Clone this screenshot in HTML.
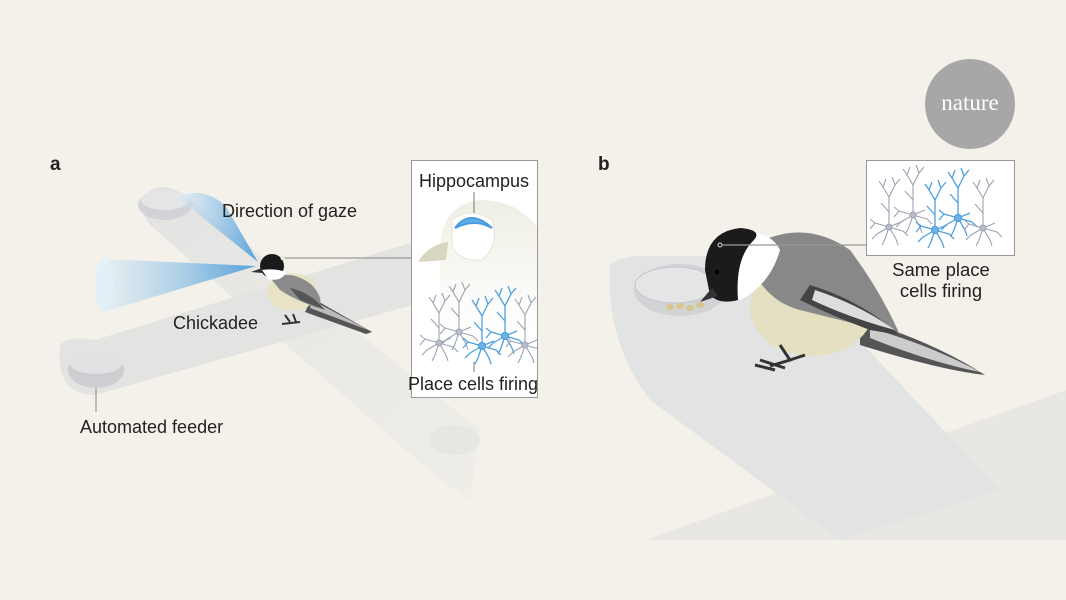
<!DOCTYPE html>
<html><head><meta charset="utf-8"><style>
html,body{margin:0;padding:0;background:#f4f1ea;}
svg{display:block;}
text{font-family:"Liberation Sans",sans-serif;fill:#222;}
</style></head><body>
<svg width="1066" height="600" viewBox="0 0 1066 600" xmlns="http://www.w3.org/2000/svg">
<defs>
<linearGradient id="coneA" x1="1" y1="0" x2="0" y2="0"><stop offset="0" stop-color="#3f95d8"/><stop offset="1" stop-color="#d9ebf7" stop-opacity="0.6"/></linearGradient>
<linearGradient id="armfade" x1="0" y1="0" x2="1" y2="1"><stop offset="0" stop-color="#e2e3e2"/><stop offset="1" stop-color="#ebeae6" stop-opacity="0.5"/></linearGradient>
<linearGradient id="headfade" x1="0" y1="0" x2="0" y2="1"><stop offset="0" stop-color="#efeee4"/><stop offset="1" stop-color="#fff"/></linearGradient>
<clipPath id="clipA"><rect x="412" y="161" width="125" height="236"/></clipPath>
<clipPath id="clipB"><rect x="867" y="161" width="147" height="94"/></clipPath>
<g id="ng" fill="none" stroke="#9ea3b3" stroke-width="1.1">
<path d="M0 0 L0 -30 M0 -30 L-6 -40 M0 -30 L6 -42 M-6 -40 L-10 -46 M-6 -40 L-3 -48 M6 -42 L3 -50 M6 -42 L11 -48 M0 -15 L-8 -24"/>
<path d="M0 0 L-14 -4 M0 0 L-12 7 M0 0 L-4 12 M0 0 L7 12 M0 0 L14 4 M0 0 L12 -5 M-14 -4 L-19 -8 M-14 -4 L-19 2 M-12 7 L-17 12 M7 12 L9 18 M14 4 L19 9 M-4 12 L-7 18"/>
<circle cx="0" cy="0" r="3" fill="#b8bccb"/>
</g>
<g id="nb" fill="none" stroke="#4ea1df" stroke-width="1.3">
<path d="M0 0 L0 -30 M0 -30 L-6 -40 M0 -30 L6 -42 M-6 -40 L-10 -46 M-6 -40 L-3 -48 M6 -42 L3 -50 M6 -42 L11 -48 M0 -15 L-8 -24"/>
<path d="M0 0 L-14 -4 M0 0 L-12 7 M0 0 L-4 12 M0 0 L7 12 M0 0 L14 4 M0 0 L12 -5 M-14 -4 L-19 -8 M-14 -4 L-19 2 M-12 7 L-17 12 M7 12 L9 18 M14 4 L19 9 M-4 12 L-7 18"/>
<circle cx="0" cy="0" r="3.5" fill="#6fb3e6"/>
</g>
</defs>

<!-- Panel a tracks -->
<path d="M150 190 Q165 182 185 195 L480 430 L470 500 L440 480 L150 225 Q135 205 150 190Z" fill="url(#armfade)"/>
<path d="M60 345 Q70 335 95 340 L420 240 L430 300 L95 395 Q55 395 60 345Z" fill="#e3e3e1"/>
<ellipse cx="165" cy="205" rx="27" ry="15" fill="#d2d3d6"/>
<ellipse cx="165" cy="200" rx="24" ry="10" fill="#e4e5e7"/>
<ellipse cx="96" cy="370" rx="28" ry="18" fill="#cdced2"/>
<ellipse cx="96" cy="363" rx="26" ry="11" fill="#e1e2e4"/>
<ellipse cx="455" cy="440" rx="25" ry="15" fill="#e6e6e3"/>
<line x1="96" y1="388" x2="96" y2="412" stroke="#888" stroke-width="1"/>

<!-- gaze cones -->
<path d="M258 262 L178 198 Q200 185 225 205 Z" fill="url(#coneA)" opacity="0.85"/>
<path d="M256 266 L104 259 L104 312 Z" fill="url(#coneA)" opacity="0.85"/>
<ellipse cx="104" cy="285" rx="9" ry="27" fill="#e4f0f8"/>

<!-- bird a -->
<path d="M312 298 L372 332 L366 334 L305 312Z" fill="#555"/>
<path d="M312 300 L368 330 L310 308Z" fill="#bbb"/>
<ellipse cx="292" cy="292" rx="25" ry="19" fill="#e8e3c6"/>
<path d="M272 280 Q290 268 312 285 Q325 300 318 308 Q295 300 280 290Z" fill="#8b8b8b"/>
<path d="M290 288 Q310 292 325 310 L300 300Z" fill="#555"/>
<circle cx="272" cy="266" r="12" fill="#1a1a1a"/>
<path d="M262 270 Q275 268 286 272 Q282 282 268 279Z" fill="#fff"/>
<path d="M262 268 L251 272 L262 273Z" fill="#333"/>
<path d="M285 315 L290 322 M293 314 L296 322 M282 324 L300 322" stroke="#333" stroke-width="2"/>
<circle cx="283" cy="258" r="2" fill="none" stroke="#ddd"/>
<line x1="285" y1="258" x2="411" y2="258" stroke="#999" stroke-width="1.2"/>

<!-- inset a -->
<rect x="411.5" y="160.5" width="126" height="237" fill="#fff" stroke="#999"/>
<g clip-path="url(#clipA)">
<path d="M440 250 Q440 205 480 200 Q525 200 545 240 L545 330 L440 330Z" fill="url(#headfade)"/>
<path d="M418 262 Q428 245 448 242 L446 260Z" fill="#d8d5c0"/>
<path d="M452 220 Q470 206 492 220 Q500 245 482 260 Q458 262 452 245Z" fill="#fff" stroke="#e6e4d8"/>
<path d="M455 228 Q470 208 492 228 Q475 218 455 228Z" fill="#62aee6" stroke="#4a9ddc" stroke-width="2"/>
<use href="#ng" x="439" y="343"/>
<use href="#ng" x="459" y="332"/>
<use href="#nb" x="482" y="346"/>
<use href="#nb" x="505" y="336"/>
<use href="#ng" x="525" y="345"/>
</g>
<line x1="474" y1="192" x2="474" y2="213" stroke="#777"/>
<text x="474" y="187" font-size="18" text-anchor="middle">Hippocampus</text>
<line x1="474" y1="362" x2="474" y2="372" stroke="#777"/>
<text x="473" y="390" font-size="18" text-anchor="middle">Place cells firing</text>

<text x="50" y="170" font-size="19" font-weight="bold" fill="#111">a</text>
<text x="222" y="217" font-size="18">Direction of gaze</text>
<text x="173" y="329" font-size="18">Chickadee</text>
<text x="80" y="433" font-size="18">Automated feeder</text>

<!-- nature logo -->
<circle cx="970" cy="104" r="45" fill="#a7a7a7"/>
<text x="970" y="110" font-size="23" text-anchor="middle" style="font-family:'Liberation Serif',serif;fill:#fff;">nature</text>

<!-- panel b tracks -->
<path d="M645 540 L1066 390 L1066 540Z" fill="#e8e7e3"/>
<path d="M610 265 Q620 255 650 256 L780 256 L1000 490 L840 540 L650 400 Q605 340 610 265Z" fill="#e2e3e3"/>
<ellipse cx="680" cy="290" rx="46" ry="26" fill="#d2d3d7"/>
<ellipse cx="675" cy="285" rx="40" ry="18" fill="#e4e5e7" stroke="#c5c6ca"/>
<g fill="#d8c68d"><ellipse cx="670" cy="307" rx="4" ry="3"/><ellipse cx="680" cy="306" rx="4" ry="3"/><ellipse cx="690" cy="308" rx="4" ry="3"/><ellipse cx="700" cy="305" rx="4" ry="3"/></g>

<!-- bird b -->
<path d="M860 320 Q930 340 985 375 Q940 370 860 345Z" fill="#555"/>
<path d="M870 328 Q930 345 980 372 Q930 362 870 338Z" fill="#ccc"/>
<ellipse cx="812" cy="308" rx="62" ry="48" fill="#e6e0c2"/>
<path d="M745 250 Q800 215 850 250 Q880 290 900 335 Q860 325 800 310 Q760 300 745 250Z" fill="#888"/>
<path d="M810 285 Q860 300 900 335 L870 330 Q830 315 800 300Z" fill="#444"/>
<path d="M815 290 Q860 305 895 330 Q850 318 812 300Z" fill="#ddd"/>
<path d="M728 232 Q770 228 780 250 Q770 285 740 300 Q722 290 740 260Z" fill="#fff"/>
<path d="M705 270 Q705 232 740 228 Q765 230 752 242 Q735 260 738 300 Q720 305 710 295Z" fill="#1b1b1b"/>
<path d="M712 288 L700 302 L718 296Z" fill="#333"/>
<circle cx="717" cy="272" r="2.5" fill="#000"/>
<path d="M780 345 L790 360 L770 366 M790 360 L805 355 M760 360 L785 368 M755 365 L775 370" stroke="#333" stroke-width="3" fill="none"/>
<circle cx="720" cy="245" r="2" fill="none" stroke="#ddd"/>
<line x1="722" y1="245" x2="866" y2="245" stroke="#999" stroke-width="1.2"/>

<!-- inset b -->
<rect x="866.5" y="160.5" width="148" height="95" fill="#fff" stroke="#999"/>
<g clip-path="url(#clipB)">
<use href="#ng" x="889" y="227"/>
<use href="#ng" x="913" y="215"/>
<use href="#nb" x="935" y="230"/>
<use href="#nb" x="958" y="218"/>
<use href="#ng" x="983" y="228"/>
</g>
<text x="941" y="276" font-size="18.5" text-anchor="middle">Same place</text>
<text x="941" y="297" font-size="18.5" text-anchor="middle">cells firing</text>
<text x="598" y="170" font-size="19" font-weight="bold" fill="#111">b</text>
</svg>
</body></html>
